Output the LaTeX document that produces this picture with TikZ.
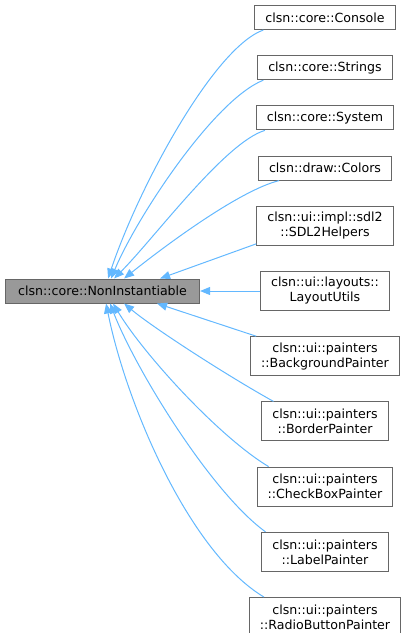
\documentclass[tikz,border=0pt]{standalone}
\usepackage{fontspec}
\setmainfont{DejaVu Sans}
\usetikzlibrary{arrows.meta, positioning}
\definecolor{edgeblue}{HTML}{63B8FF}
\definecolor{boxgray}{HTML}{666666}
\definecolor{basegray}{HTML}{999999}
\tikzset{
    classgraph/.style={x=1bp, y=1bp, font=\fontsize{12.6bp}{15bp}\selectfont, node distance=25.2bp and 60bp},
    cls/.style={draw=boxgray, fill=white, line width=1bp, inner xsep=10.5bp, inner ysep=3bp, minimum height=24bp, align=center},
    twoline/.style={minimum height=39bp},
    baseclass/.style={cls, fill=basegray, minimum width=194bp},
    % inheritance edge: arrow sits on the base class
    inherit/.style={draw=edgeblue, line width=1bp, {Triangle[length=10bp, width=8bp]}-},
}

\begin{document}
\begin{tikzpicture}[classgraph]
    \useasboundingbox (0,0) rectangle (408,-633);

    \node[cls] at (325,-17.5)              (console)  {clsn::core::Console};
    \node[cls, below=of console]           (strings)  {clsn::core::Strings};
    \node[cls, below=of strings]           (system)   {clsn::core::System};
    \node[cls, below=of system]            (colors)   {clsn::draw::Colors};
    \node[cls, twoline, below=of colors]   (sdl)      {clsn::ui::impl::sdl2\\::SDL2Helpers};
    \node[cls, twoline, below=of sdl]      (layout)   {clsn::ui::layouts::\\LayoutUtils};
    \node[cls, twoline, below=of layout]   (bgpaint)  {clsn::ui::painters\\::BackgroundPainter};
    \node[cls, twoline, below=of bgpaint]  (border)   {clsn::ui::painters\\::BorderPainter};
    \node[cls, twoline, below=of border]   (checkbox) {clsn::ui::painters\\::CheckBoxPainter};
    \node[cls, twoline, below=of checkbox] (label)    {clsn::ui::painters\\::LabelPainter};
    \node[cls, twoline, below=of label]    (radio)    {clsn::ui::painters\\::RadioButtonPainter};
    \node[baseclass, left=of layout]       (base)     {clsn::core::NonInstantiable};

    % children above the base
    \draw[inherit] ([xshift=5.5bp]base.north) .. controls +(30,90) and +(-50,-18) .. ([xshift=9bp]console.south west);
    \draw[inherit] ([xshift=8.5bp]base.north) .. controls +(25,60) and +(-50,-20) .. ([xshift=6bp]strings.south west);
    \draw[inherit] ([xshift=11.5bp]base.north) .. controls +(40,40) and +(-40,-12) .. ([xshift=9bp]system.south west);
    \draw[inherit] ([xshift=21.5bp]base.north) .. controls +(40,32) and +(-40,-10) .. ([xshift=21bp]colors.south west);
    \draw[inherit] ([xshift=57.5bp]base.north) -- ([yshift=2bp]sdl.south west);

    \draw[inherit] (base) -- (layout);

    % children below the base
    \draw[inherit] ([xshift=54.5bp]base.south) -- ([xshift=6bp]bgpaint.north west);
    \draw[inherit] ([xshift=21.5bp]base.south) .. controls +(30,-25) and +(-45,25) .. ([xshift=12bp]border.north west);
    \draw[inherit] ([xshift=10.5bp]base.south) .. controls +(30,-50) and +(-50,30) .. ([xshift=12bp]checkbox.north west);
    \draw[inherit] ([xshift=7.5bp]base.south) .. controls +(25,-65) and +(-55,40) .. ([xshift=4bp]label.north west);
    \draw[inherit] ([xshift=3.5bp]base.south) .. controls +(20,-100) and +(-75,45) .. ([xshift=15bp]radio.north west);
\end{tikzpicture}
\end{document}
